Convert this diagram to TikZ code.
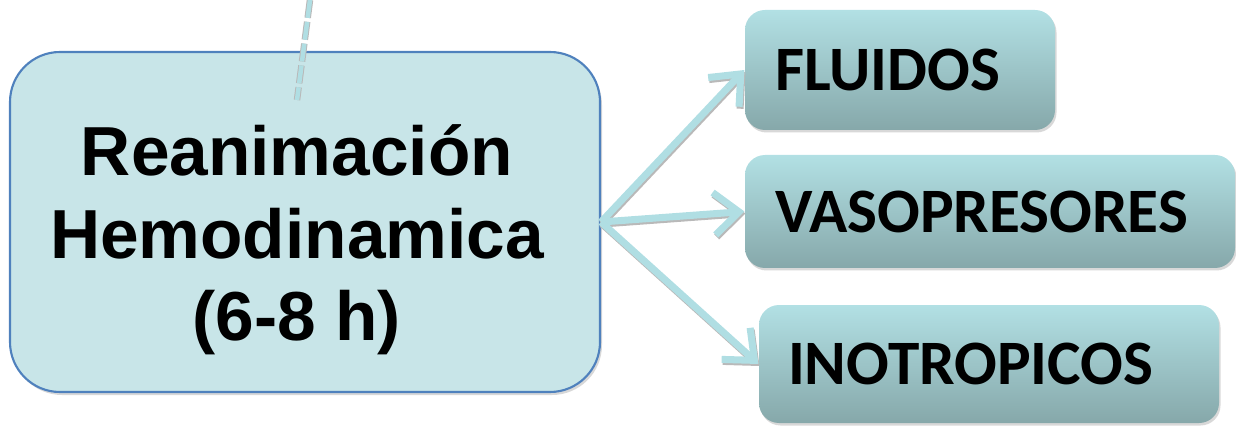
\documentclass[tikz,border=0pt]{standalone}
\usepackage{fontspec}
\setmainfont{Liberation Sans}
\newfontfamily\calibri{Carlito}
\usepackage{xcolor}
\usetikzlibrary{arrows.meta,shadows}
\definecolor{azulclaro}{RGB}{200,229,232}
\definecolor{bordeazul}{RGB}{79,129,189}
\definecolor{azularriba}{RGB}{178,224,228}
\definecolor{azulabajo}{RGB}{134,168,170}
\definecolor{azulflecha}{RGB}{176,222,227}

\begin{document}
\begin{tikzpicture}[semithick]
\tikzstyle{caja}=[rectangle,rounded corners=1cm,draw=bordeazul,line width=1.2pt,fill=azulclaro,
  drop shadow={shadow xshift=0.04cm,shadow yshift=-0.06cm,fill=gray!60}]
\tikzstyle{opcion}=[rectangle,rounded corners=0.4cm,top color=azularriba,bottom color=azulabajo,
  drop shadow={shadow xshift=0.03cm,shadow yshift=-0.05cm,fill=gray!60},
  align=left,inner xsep=0.6cm,font=\calibri\bfseries\fontsize{36}{40}\selectfont]
\tikzstyle{flecha}=[line width=4pt,draw=azulflecha,-{Straight Barb[length=0.5cm,width=0.85cm]}]
\tikzstyle{sombra}=[flecha,draw=gray!55,transform canvas={xshift=0.02cm,yshift=-0.04cm}]
\useasboundingbox (0,0) rectangle (24.72,-8.58);
%caja principal
\node[caja,minimum width=11.8cm,minimum height=6.8cm] (reanim) at (6.1,-4.44) {};
\node[align=center,font=\bfseries\fontsize{39.5}{47}\selectfont] (texto)
  at ([xshift=-0.16cm,yshift=-0.36cm]reanim.center) {Reanimación\\Hemodinamica\\(6-8 h)};
%linea de arriba
\coordinate (arriba) at (6.2,0);
\coordinate (fin) at (5.94,-2.0);
\draw[gray!55,line width=0.13cm,dash pattern=on 0.36cm off 0.08cm] (arriba) -- (fin);
\draw[azulflecha,line width=0.09cm,dash pattern=on 0.36cm off 0.08cm] (arriba) -- (fin);
%opciones
\node[opcion,minimum height=2.4cm,text width=5.0cm] (fluidos) at (18,-1.4) {FLUIDOS};
\node[opcion,minimum height=2.26cm,text width=8.6cm] (vaso) at (19.8,-4.23) {VASOPRESORES};
\node[opcion,minimum height=2.36cm,text width=8.04cm,inner xsep=0.58cm] (ino) at (19.78,-7.28) {INOTROPICOS};
%flechas
\foreach \destino in {fluidos,vaso,ino}{
  \draw[sombra] (reanim.east) -- (\destino.west);
  \draw[flecha] (reanim.east) -- (\destino.west);
}
\end{tikzpicture}
\end{document}
